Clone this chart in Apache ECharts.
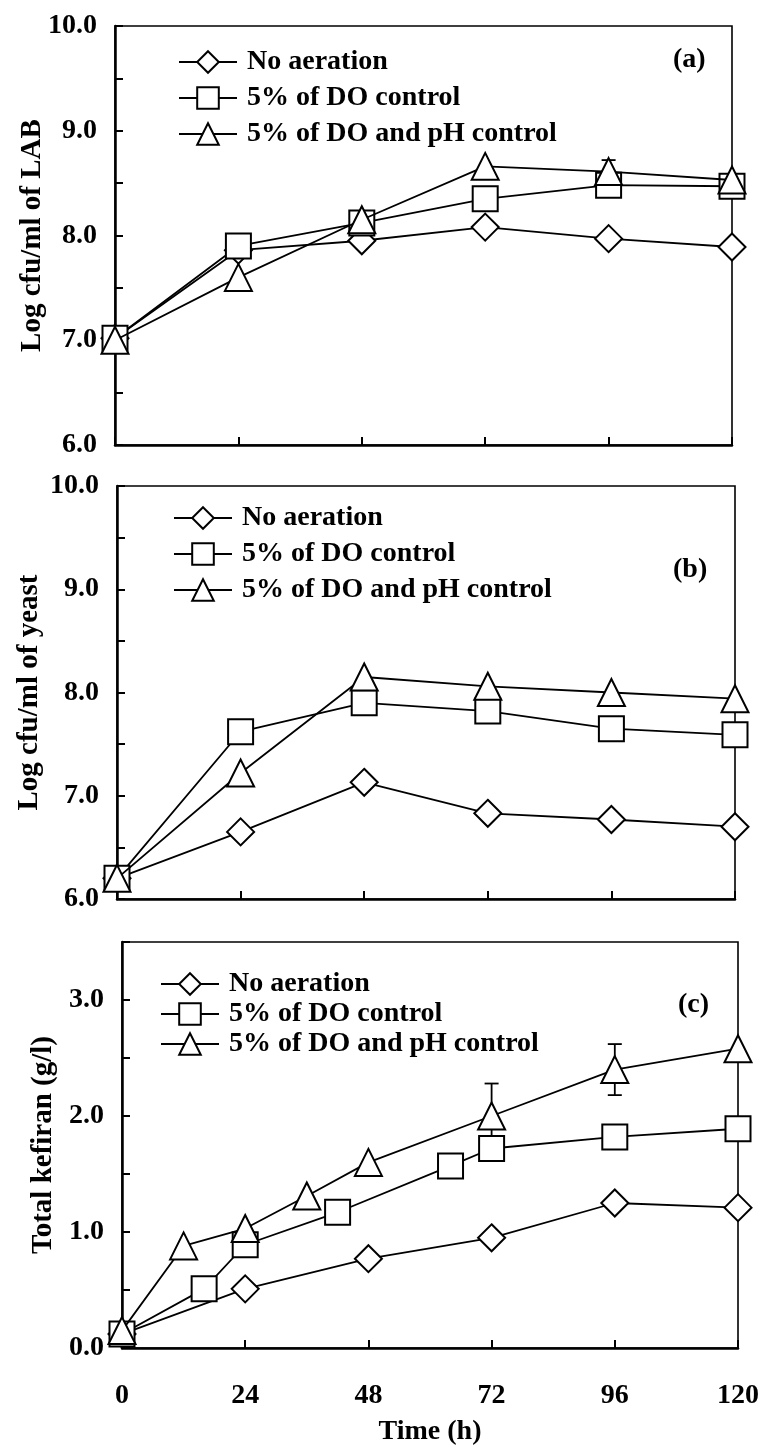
<!DOCTYPE html>
<html>
<head>
<meta charset="utf-8">
<script src="https://cdn.jsdelivr.net/npm/echarts@6/dist/echarts.min.js"></script>
<style>
html,body{margin:0;padding:0;background:#fff;}
#c{width:764px;height:1447px;}
</style>
</head>
<body>
<div id="c"></div>
<script>
// ---- Data ----
const seriesNames = ['No aeration', '5% of DO control', '5% of DO and pH control'];
const xTicks = [0, 24, 48, 72, 96, 120];

// (a) LAB
const hoursA = [0, 24, 48, 72, 96, 120];
const labNoAer = [7.02, 7.86, 7.95, 8.08, 7.97, 7.89];
const labDO = [7.02, 7.90, 8.12, 8.35, 8.48, 8.47];
const labDOpH = [7.00, 7.60, 8.15, 8.66, 8.61, 8.53];
const labErr = [[96, 8.61, 0.11]];

// (b) yeast
const hoursB = [0, 24, 48, 72, 96, 120];
const yeastNoAer = [6.20, 6.65, 7.13, 6.83, 6.77, 6.70];
const yeastDO = [6.20, 7.62, 7.90, 7.82, 7.65, 7.59];
const yeastDOpH = [6.20, 7.22, 8.15, 8.06, 8.00, 7.94];

// (c) kefiran
const hoursCNoAer = [0, 24, 48, 72, 96, 120];
const kefNoAer = [0.12, 0.51, 0.77, 0.95, 1.25, 1.21];
const hoursCDO = [0, 16, 24, 42, 64, 72, 96, 120];
const kefDO = [0.12, 0.51, 0.89, 1.17, 1.57, 1.72, 1.82, 1.89];
const hoursCDOpH = [0, 12, 24, 36, 48, 72, 96, 120];
const kefDOpH = [0.15, 0.88, 1.03, 1.31, 1.60, 2.00, 2.40, 2.58];
const kefErr = [[72, 2.00, 0.28], [96, 2.40, 0.22]];

// ---- Styling ----
const FONT = '"Liberation Serif", "Times New Roman", Times, serif';
const symbols = ['diamond', 'rect', 'triangle'];
const symSizes = [27, 25, 27];

function pairs(xs, ys) { return xs.map((x, i) => [x, ys[i]]); }

function lineSeries(idx, name, data, k) {
  return {
    type: 'line', name: name, xAxisIndex: idx, yAxisIndex: idx,
    data: data, symbol: symbols[k], symbolSize: symSizes[k],
    showAllSymbol: true, animation: false, z: 3 + k,
    lineStyle: { color: '#000', width: 1.8 },
    itemStyle: { color: '#fff', borderColor: '#000', borderWidth: 2 },
    emphasis: { disabled: true }
  };
}

function errSeries(idx, data) {
  return {
    type: 'custom', xAxisIndex: idx, yAxisIndex: idx, data: data, z: 1,
    animation: false, silent: true,
    renderItem: function (params, api) {
      const x = api.value(0), y = api.value(1), e = api.value(2);
      const hi = api.coord([x, y + e]), lo = api.coord([x, y - e]);
      const hw = 7, st = { stroke: '#000', lineWidth: 1.8 };
      return { type: 'group', children: [
        { type: 'line', shape: { x1: hi[0], y1: hi[1], x2: lo[0], y2: lo[1] }, style: st },
        { type: 'line', shape: { x1: hi[0] - hw, y1: hi[1], x2: hi[0] + hw, y2: hi[1] }, style: st },
        { type: 'line', shape: { x1: lo[0] - hw, y1: lo[1], x2: lo[0] + hw, y2: lo[1] }, style: st }
      ]};
    }
  };
}

function xAxis(idx, showLabels) {
  return {
    type: 'value', gridIndex: idx, min: 0, max: 120, interval: 24,
    axisLine: { show: true, onZero: false, lineStyle: { color: '#000', width: 2.5 } },
    axisTick: { show: true, inside: true, length: 8, lineStyle: { color: '#000', width: 2 } },
    axisLabel: { show: showLabels, margin: 34, color: '#000', fontFamily: FONT, fontWeight: 'bold', fontSize: 28 },
    splitLine: { show: false },
    name: showLabels ? 'Time (h)' : '', nameLocation: 'middle', nameGap: 70, nameMoveOverlap: false,
    nameTextStyle: { color: '#000', fontFamily: FONT, fontWeight: 'bold', fontSize: 28 }
  };
}

function yAxis(idx, min, max, name, gap) {
  return {
    type: 'value', gridIndex: idx, min: min, max: max, interval: 1,
    axisLine: { show: true, onZero: false, lineStyle: { color: '#000', width: 2.5 } },
    axisTick: { show: true, inside: true, length: 8, lineStyle: { color: '#000', width: 2 } },
    minorTick: { show: true, splitNumber: 2, length: 8, lineStyle: { color: '#000', width: 2 } },
    axisLabel: { margin: 18, color: '#000', fontFamily: FONT, fontWeight: 'bold', fontSize: 28,
      formatter: v => (Math.abs(v - Math.round(v)) < 1e-9 ? v.toFixed(1) : '') },
    splitLine: { show: false },
    name: name, nameLocation: 'middle', nameRotate: 90, nameGap: gap, nameMoveOverlap: false,
    nameTextStyle: { color: '#000', fontFamily: FONT, fontWeight: 'bold', fontSize: 29 }
  };
}

function legend(left, top, gap) {
  return {
    data: seriesNames, orient: 'vertical', left: left, top: top,
    itemWidth: 58, itemHeight: 27, itemGap: gap, selectedMode: false,
    textStyle: { color: '#000', fontFamily: FONT, fontWeight: 'bold', fontSize: 28, padding: [0, 0, 0, 5] }
  };
}

const gridBase = { show: true, borderColor: '#000', borderWidth: 1.6, backgroundColor: 'transparent', containLabel: false };

const option = {
  animation: false,
  backgroundColor: '#fff',
  grid: [
    Object.assign({ left: 115, right: 32, top: 26, height: 419 }, gridBase),
    Object.assign({ left: 117, right: 29, top: 486, height: 413 }, gridBase),
    Object.assign({ left: 122, right: 26, top: 942, height: 408 }, gridBase)
  ],
  xAxis: [xAxis(0, false), xAxis(1, false), xAxis(2, true)],
  yAxis: [
    yAxis(0, 6, 10, 'Log cfu/ml of LAB', 68),
    yAxis(1, 6, 10, 'Log cfu/ml of yeast', 73),
    yAxis(2, 0, 3.5, 'Total kefiran (g/l)', 64)
  ],
  legend: [legend(173, 43, 8), legend(168, 499, 8), legend(155, 965, 2)],
  graphic: [
    { type: 'text', left: 673, top: 46, style: { text: '(a)', fill: '#000', font: 'bold 28px ' + FONT } },
    { type: 'text', left: 673, top: 556, style: { text: '(b)', fill: '#000', font: 'bold 28px ' + FONT } },
    { type: 'text', left: 678, top: 991, style: { text: '(c)', fill: '#000', font: 'bold 28px ' + FONT } }
  ],
  series: [
    errSeries(0, labErr),
    lineSeries(0, seriesNames[0], pairs(hoursA, labNoAer), 0),
    lineSeries(0, seriesNames[1], pairs(hoursA, labDO), 1),
    lineSeries(0, seriesNames[2], pairs(hoursA, labDOpH), 2),
    lineSeries(1, seriesNames[0], pairs(hoursB, yeastNoAer), 0),
    lineSeries(1, seriesNames[1], pairs(hoursB, yeastDO), 1),
    lineSeries(1, seriesNames[2], pairs(hoursB, yeastDOpH), 2),
    errSeries(2, kefErr),
    lineSeries(2, seriesNames[0], pairs(hoursCNoAer, kefNoAer), 0),
    lineSeries(2, seriesNames[1], pairs(hoursCDO, kefDO), 1),
    lineSeries(2, seriesNames[2], pairs(hoursCDOpH, kefDOpH), 2)
  ]
};

const chart = echarts.init(document.getElementById('c'), null, { renderer: 'canvas' });
chart.setOption(option);
</script>
</body>
</html>
